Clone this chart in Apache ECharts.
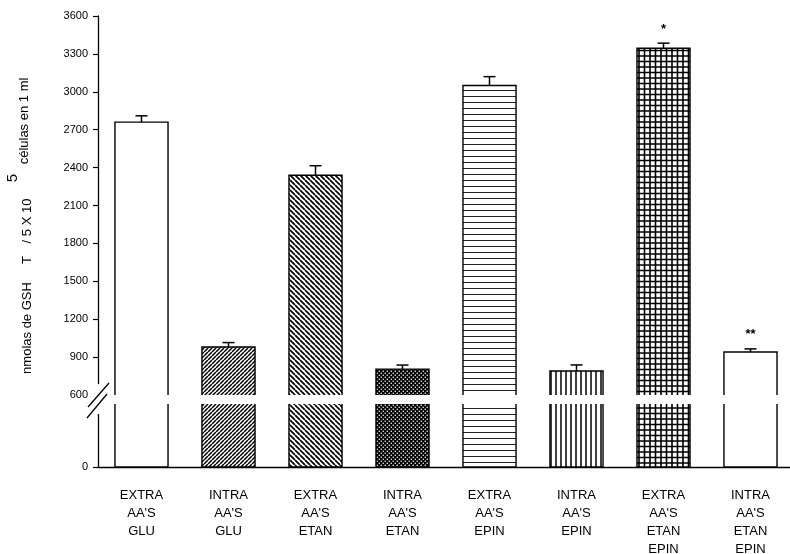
<!DOCTYPE html>
<html>
<head>
<meta charset="utf-8">
<script src="https://cdn.jsdelivr.net/npm/echarts@6/dist/echarts.min.js"></script>
<style>
  html, body { margin: 0; padding: 0; background: #ffffff; }
  #chart { width: 790px; height: 554px; }
</style>
</head>
<body>
<div id="chart"></div>
<script>
// Groups on the horizontal axis
const categories = [
  "EXTRA\nAA'S\nGLU",
  "INTRA\nAA'S\nGLU",
  "EXTRA\nAA'S\nETAN",
  "INTRA\nAA'S\nETAN",
  "EXTRA\nAA'S\nEPIN",
  "INTRA\nAA'S\nEPIN",
  "EXTRA\nAA'S\nETAN\nEPIN",
  "INTRA\nAA'S\nETAN\nEPIN"
];
// Mean GSH (nmol) and error per group
const values = [2760, 980, 2340, 805, 3050, 790, 3345, 940];
const errors = [50, 35, 75, 32, 70, 48, 40, 25];
// Significance marks above the error bars
const significance = ['', '', '', '', '', '', '*', '**'];
// Broken value axis: 0 on the lower stub, 600..3600 above the break
const breakValue = 600;
const upperMax = 3600;
const upperStep = 300;
const lowerTicks = [0];

const FONT = "'Liberation Sans', Arial, sans-serif";
const BAR_RATIO = 0.61;

function tile(w, h, draw, bg) {
  const c = document.createElement('canvas');
  c.width = w; c.height = h;
  const g = c.getContext('2d');
  g.fillStyle = bg || '#ffffff';
  g.fillRect(0, 0, w, h);
  g.strokeStyle = '#000000';
  g.fillStyle = '#000000';
  draw(g, w, h);
  return { image: c, repeat: 'repeat' };
}

// Fill pattern of each bar, by position
const fills = [
  '#ffffff',
  // forward hatching
  tile(4, 4, (g, s) => {
    g.lineWidth = 1.5;
    g.beginPath();
    for (let k = -s; k <= s; k += s) { g.moveTo(k, s); g.lineTo(k + s, 0); }
    g.stroke();
  }),
  // back hatching
  tile(5, 5, (g, s) => {
    g.lineWidth = 1.7;
    g.beginPath();
    for (let k = -s; k <= s; k += s) { g.moveTo(k, 0); g.lineTo(k + s, s); }
    g.stroke();
  }),
  // dark dotted
  tile(4, 4, (g) => {
    g.fillStyle = '#ffffff';
    g.fillRect(0.6, 0.6, 1.3, 1.3);
    g.fillRect(2.6, 2.6, 1.3, 1.3);
  }, '#000000'),
  // horizontal rules
  tile(6, 6, (g, w) => {
    g.strokeStyle = '#222222';
    g.lineWidth = 1;
    g.beginPath(); g.moveTo(0, 0.5); g.lineTo(w, 0.5); g.stroke();
  }),
  // vertical rules
  tile(5, 5, (g, w, h) => {
    g.lineWidth = 1.5;
    g.beginPath(); g.moveTo(1, 0); g.lineTo(1, h); g.stroke();
  }),
  // square grid
  tile(11, 11, (g, s) => {
    g.lineWidth = 1.6;
    g.beginPath();
    [1, 6.5].forEach(p => {
      g.moveTo(p, 0); g.lineTo(p, s);
      g.moveTo(0, p); g.lineTo(s, p);
    });
    g.stroke();
  }),
  '#ffffff'
];

const seriesData = values.map((v, i) => [i, v, errors[i]]);

function upperItem(params, api) {
  const i = api.value(0), v = api.value(1), e = api.value(2);
  const w = api.size([1, 0])[0] * BAR_RATIO;
  const base = api.coord([i, breakValue]);
  const top = api.coord([i, v]);
  const cap = api.coord([i, v + e]);
  const cx = top[0], x0 = cx - w / 2, x1 = cx + w / 2;
  const children = [
    { type: 'rect', shape: { x: x0, y: top[1], width: w, height: base[1] - top[1] },
      style: { fill: fills[params.dataIndex], stroke: null } },
    { type: 'polyline', shape: { points: [[x0, base[1]], [x0, top[1]], [x1, top[1]], [x1, base[1]]] },
      style: { fill: null, stroke: '#000', lineWidth: 1.4 } },
    { type: 'line', shape: { x1: cx, y1: top[1], x2: cx, y2: cap[1] },
      style: { stroke: '#000', lineWidth: 1.5 } },
    { type: 'line', shape: { x1: cx - 6, y1: cap[1], x2: cx + 6, y2: cap[1] },
      style: { stroke: '#000', lineWidth: 1.5 } }
  ];
  const mark = significance[params.dataIndex];
  if (mark) {
    children.push({ type: 'text', x: cx, y: cap[1] - 14,
      style: { text: mark, font: 'bold 13px ' + FONT, fill: '#000',
        align: 'center', verticalAlign: 'middle', textAlign: 'center', textVerticalAlign: 'middle' } });
  }
  return { type: 'group', children };
}

function lowerItem(params, api) {
  const i = api.value(0), v = api.value(1);
  const w = api.size([1, 0])[0] * BAR_RATIO;
  const low = api.coord([i, 0]);
  const high = api.coord([i, Math.min(v, breakValue)]);
  const cx = low[0], x0 = cx - w / 2, x1 = cx + w / 2;
  return { type: 'group', children: [
    { type: 'rect', shape: { x: x0, y: high[1], width: w, height: low[1] - high[1] },
      style: { fill: fills[params.dataIndex], stroke: null } },
    { type: 'polyline', shape: { points: [[x0, high[1]], [x0, low[1]], [x1, low[1]], [x1, high[1]]] },
      style: { fill: null, stroke: '#000', lineWidth: 1.4 } }
  ] };
}

const axisText = { color: '#000', fontFamily: FONT };
const plainNumber = v => String(v);
const titleStyle = (text, size) => ({
  text, font: size + 'px ' + FONT, fill: '#000',
  align: 'center', verticalAlign: 'middle', textAlign: 'center', textVerticalAlign: 'middle'
});

const option = {
  animation: false,
  backgroundColor: '#ffffff',
  grid: [
    { left: 98, right: -4, top: 16, bottom: 159, outerBoundsMode: 'none', containLabel: false },
    { left: 98, right: -4, top: 404, bottom: 87, outerBoundsMode: 'none', containLabel: false }
  ],
  xAxis: [
    { gridIndex: 0, type: 'category', data: categories, show: false },
    { gridIndex: 1, type: 'category', data: categories,
      axisLine: { lineStyle: { color: '#000', width: 1.3 } },
      axisTick: { alignWithLabel: true, length: 6, lineStyle: { color: '#000', width: 1.2 } },
      axisLabel: Object.assign({ fontSize: 13, lineHeight: 18, margin: 19, interval: 0 }, axisText) }
  ],
  yAxis: [
    { gridIndex: 0, type: 'value', min: breakValue, max: upperMax, interval: upperStep,
      splitLine: { show: false },
      axisLine: { show: true, lineStyle: { color: '#000', width: 1.3 } },
      axisTick: { show: true, length: 5, lineStyle: { color: '#000', width: 1.2 } },
      axisLabel: Object.assign({ fontSize: 11, margin: 10, formatter: plainNumber }, axisText) },
    { gridIndex: 1, type: 'value', min: 0, max: breakValue, interval: breakValue,
      splitLine: { show: false },
      axisLine: { show: true, lineStyle: { color: '#000', width: 1.3 } },
      axisTick: { show: true, length: 5, customValues: lowerTicks, lineStyle: { color: '#000', width: 1.2 } },
      axisLabel: Object.assign({ fontSize: 11, margin: 10, customValues: lowerTicks, formatter: plainNumber }, axisText) }
  ],
  series: [
    { type: 'custom', xAxisIndex: 0, yAxisIndex: 0, data: seriesData,
      encode: { x: 0, y: 1 }, renderItem: upperItem, clip: false },
    { type: 'custom', xAxisIndex: 1, yAxisIndex: 1, data: seriesData,
      encode: { x: 0, y: 1 }, renderItem: lowerItem, clip: false }
  ],
  graphic: [
    // axis break
    { type: 'rect', z: 100, shape: { x: 90, y: 384, width: 12, height: 30 }, style: { fill: '#fff' } },
    { type: 'line', z: 101, shape: { x1: 88, y1: 407, x2: 109, y2: 383 }, style: { stroke: '#000', lineWidth: 1.3 } },
    { type: 'line', z: 101, shape: { x1: 87, y1: 418, x2: 107, y2: 394 }, style: { stroke: '#000', lineWidth: 1.3 } },
    // vertical axis title
    { type: 'text', x: 27, y: 328, rotation: Math.PI / 2, style: titleStyle('nmolas de GSH', 13) },
    { type: 'text', x: 27, y: 260, rotation: Math.PI / 2, style: titleStyle('T', 13) },
    { type: 'text', x: 27, y: 221, rotation: Math.PI / 2, style: titleStyle('/ 5 X 10', 13) },
    { type: 'text', x: 13, y: 178, rotation: Math.PI / 2, style: titleStyle('5', 15) },
    { type: 'text', x: 24, y: 121, rotation: Math.PI / 2, style: titleStyle('células en 1 ml', 13) }
  ]
};

const chart = echarts.init(document.getElementById('chart'), null, { renderer: 'canvas' });
chart.setOption(option);
</script>
</body>
</html>
